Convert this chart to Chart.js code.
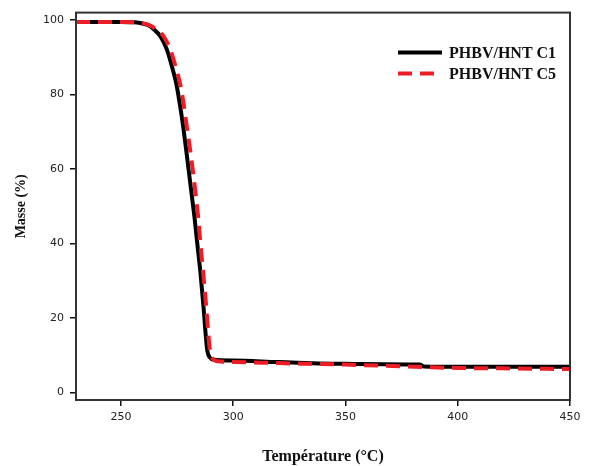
<!DOCTYPE html>
<html>
<head>
<meta charset="utf-8">
<script src="https://cdn.jsdelivr.net/npm/chart.js@4.4.0/dist/chart.umd.min.js"></script>
<style>
html,body{margin:0;padding:0;background:#fff;}
#wrap{width:589px;height:466px;position:relative;}
</style>
</head>
<body>
<div id="wrap"><canvas id="c" width="589" height="466"></canvas></div>
<script>
// Series labels
const seriesLabels = ["PHBV/HNT C1", "PHBV/HNT C5"];

// PHBV/HNT C1 (black solid)
const tempC1 = [230, 250, 256, 260, 262.9, 265, 267.4, 270.4, 272.6, 274.8, 276.3, 277.8, 279.4, 281.2, 283.0, 283.9, 285.5, 286.8, 287.7, 288.5, 289.6, 291.5, 300, 320, 350, 383, 385, 400, 420, 450];
const massC1 = [99.5, 99.5, 99.4, 99.0, 98.4, 97.3, 95.8, 92.2, 87.8, 82.5, 77.2, 71.1, 63.5, 54.7, 45.8, 40.6, 31.7, 22.9, 15.9, 11.2, 9.4, 8.8, 8.6, 8.2, 7.7, 7.5, 7.0, 6.9, 6.9, 6.9];

// PHBV/HNT C5 (red dashed)
const tempC5 = [230, 250, 256, 260, 263.5, 266, 268.8, 271.9, 274.2, 276.5, 278.0, 279.4, 281.2, 283.0, 284.6, 285.3, 286.7, 288.0, 288.9, 289.7, 290.8, 293.0, 300, 320, 350, 400, 420, 450];
const massC5 = [99.5, 99.5, 99.4, 99.1, 98.4, 97.3, 95.8, 92.2, 87.8, 82.5, 77.2, 71.1, 63.5, 54.7, 45.8, 40.6, 31.7, 22.9, 15.9, 11.0, 9.1, 8.4, 8.2, 7.9, 7.5, 6.6, 6.5, 6.3];

// Axis ticks
const xTicks = [250, 300, 350, 400, 450];
const yTicks = [0, 20, 40, 60, 80, 100];

const toPts = (xs, ys) => xs.map((x, i) => ({x: x, y: ys[i]}));

const frame = {
  id: 'frame',
  afterDatasetsDraw(chart) {
    const a = chart.chartArea, ctx = chart.ctx;
    ctx.save();
    ctx.strokeStyle = '#333';
    ctx.lineWidth = 2;
    ctx.strokeRect(a.left, a.top, a.right - a.left, a.bottom - a.top);
    ctx.restore();
  }
};

const legendInside = {
  id: 'legendInside',
  afterDatasetsDraw(chart) {
    const ctx = chart.ctx, a = chart.chartArea;
    ctx.save();
    ctx.font = 'bold 16px "Liberation Serif", "Times New Roman", serif';
    ctx.textBaseline = 'middle';
    ctx.fillStyle = '#111';
    const x0 = a.left + 322, lineLen = 44, rowH = 21, y0 = a.top + 40;
    chart.data.datasets.forEach((ds, i) => {
      const y = y0 + i * rowH;
      ctx.beginPath();
      ctx.strokeStyle = ds.borderColor;
      ctx.lineWidth = ds.borderWidth;
      ctx.setLineDash(ds.borderDash || []);
      ctx.moveTo(x0, y);
      ctx.lineTo(x0 + lineLen, y);
      ctx.stroke();
      ctx.setLineDash([]);
      ctx.fillText(ds.label, x0 + lineLen + 7, y + 1);
    });
    ctx.restore();
  }
};

new Chart(document.getElementById('c'), {
  type: 'line',
  data: {
    datasets: [
      {
        label: seriesLabels[0],
        data: toPts(tempC1, massC1),
        borderColor: '#000000',
        borderWidth: 4,
        pointRadius: 0,
        fill: false,
        order: 2,
        cubicInterpolationMode: 'monotone'
      },
      {
        label: seriesLabels[1],
        data: toPts(tempC5, massC5),
        borderColor: '#ee1c24',
        borderWidth: 4,
        borderDash: [14, 8],
        pointRadius: 0,
        fill: false,
        order: 1,
        cubicInterpolationMode: 'monotone'
      }
    ]
  },
  options: {
    responsive: false,
    animation: false,
    devicePixelRatio: 1,
    layout: {padding: {left: 0, top: 8, right: 19, bottom: 0}},
    plugins: {legend: {display: false}, tooltip: {enabled: false}},
    scales: {
      x: {
        type: 'linear',
        min: 230, max: 450,
        afterBuildTicks: (s) => { s.ticks = xTicks.map(v => ({value: v})); },
        afterFit: (s) => { s.height = 66; },
        grid: {drawOnChartArea: false, drawTicks: true, tickLength: 6, color: '#111', lineWidth: 1.5},
        border: {display: true, color: '#333', width: 2},
        ticks: {color: '#222', font: {family: '"DejaVu Sans", sans-serif', size: 11}, padding: 5, maxRotation: 0},
        title: {display: true, text: 'Température (°C)', color: '#111',
          font: {family: '"Liberation Serif", "Times New Roman", serif', size: 16, weight: 'bold'},
          padding: {top: 7, bottom: 0}}
      },
      y: {
        type: 'linear',
        min: -2, max: 102,
        afterBuildTicks: (s) => { s.ticks = yTicks.map(v => ({value: v})); },
        afterFit: (s) => { s.width = 76; },
        grid: {drawOnChartArea: false, drawTicks: true, tickLength: 6, color: '#111', lineWidth: 1.5},
        border: {display: true, color: '#333', width: 2},
        ticks: {color: '#222', font: {family: '"DejaVu Sans", sans-serif', size: 11}, padding: 6},
        title: {display: true, text: 'Masse (%)', color: '#111',
          font: {family: '"Liberation Serif", "Times New Roman", serif', size: 14, weight: 'bold'},
          padding: {top: 13, bottom: 0}}
      }
    }
  },
  plugins: [frame, legendInside]
});
</script>
</body>
</html>
